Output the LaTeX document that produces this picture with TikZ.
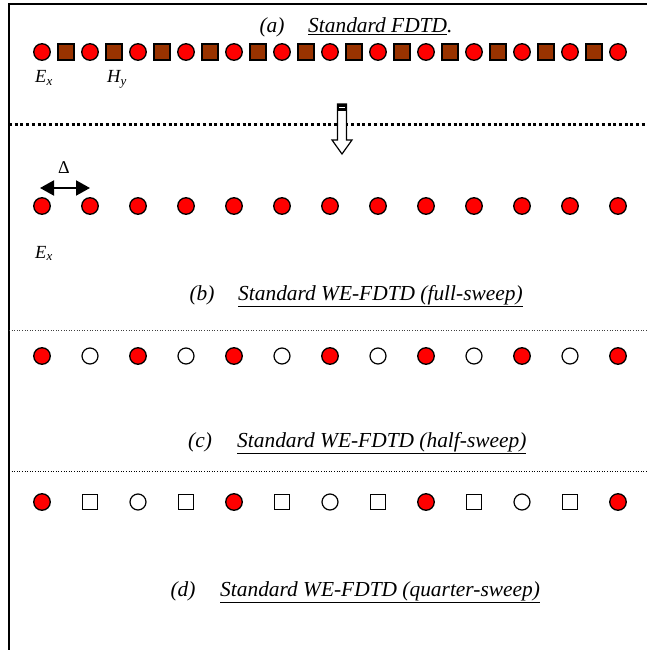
\documentclass[tikz,border=0pt]{standalone}
\usepackage{fontspec}
\setmainfont{Liberation Serif}
\usetikzlibrary{arrows.meta}
\definecolor{brn}{RGB}{153,51,0}
\begin{document}
\begin{tikzpicture}[x=1pt,y=-1pt,
  redc/.style={circle,draw=black,fill=red,line width=1.3pt,minimum size=16.5pt,inner sep=0pt},
  whitec/.style={circle,draw=black,fill=white,line width=1.2pt,minimum size=16pt,inner sep=0pt},
  brnsq/.style={rectangle,draw=black,fill=brn,line width=1.3pt,minimum size=16pt,inner sep=0pt},
  whitesq/.style={rectangle,draw=black,fill=white,line width=1.2pt,minimum size=14.5pt,inner sep=0pt},
  captxt/.style={inner sep=0pt,anchor=base,font=\fontsize{21.4}{24}\selectfont\itshape},
  captxtw/.style={captxt,anchor=base west},
  labtxt/.style={inner sep=0pt,anchor=base west,font=\fontsize{18.5}{20}\selectfont\itshape},
  thickdot/.style={line width=3pt,dash pattern=on 3pt off 2.7pt},
  thindot/.style={line width=1pt,dash pattern=on 1pt off 1.6pt}]
\useasboundingbox (0,0) rectangle (647,650);
% frame (top and left)
\draw[line width=2pt] (9,650) -- (9,4) -- (647,4);
% (a)
\node[captxt] (la) at (272,33) {(a)};
\node[captxtw] (ta) at (308,33) {\underline{Standard FDTD}.};
\foreach \i in {0,...,12} \node[redc] (a\i) at (42+48*\i,52) {};
\foreach \i in {0,...,11} \node[brnsq] (h\i) at (66+48*\i,52) {};
\node[labtxt] (ex1) at (35,83) {E\textsubscript{x}};
\node[labtxt] (hy1) at (107,83) {H\textsubscript{y}};
% thick dotted separator
\draw[thickdot] (9,125) -- (647,125);
% hollow down arrow
\draw[line width=1.2pt,fill=white] (337.5,104) -- (346.5,104) -- (346.5,140) -- (352,140) -- (342,154) -- (332,140) -- (337.5,140) -- cycle;
\fill[black] (337.5,104) rectangle (346.5,111);
\draw[white,line width=1.2pt] (339,107.5) -- (345,107.5);
% (b)
\node[inner sep=0pt,anchor=base,font=\fontsize{18}{20}\selectfont] (delta) at (64,173) {Δ};
\coordinate (dl) at (40,188);
\coordinate (dr) at (90,188);
\draw[line width=2pt,{Triangle[length=14pt,width=15pt]}-{Triangle[length=14pt,width=15pt]}] (dl) -- (dr);
\foreach \i in {0,...,12} \node[redc] (b\i) at (42+48*\i,206) {};
\node[labtxt] (ex2) at (35,258) {E\textsubscript{x}};
\node[captxt] (lb) at (202,300) {(b)};
\node[captxtw] (tb) at (238,300) {\underline{Standard WE-FDTD (full-sweep)}};
\draw[thindot,black!75] (9,330) -- (647,330);
% (c)
\foreach \i in {0,...,12} {
  \pgfmathtruncatemacro{\r}{mod(\i,2)}
  \ifnum\r=0 \node[redc] (c\i) at (42+48*\i,356) {};
  \else \node[whitec] (c\i) at (42+48*\i,356) {};
  \fi
}
\node[captxt] (lc) at (200,447) {(c)};
\node[captxtw] (tc) at (237,447) {\underline{Standard WE-FDTD (half-sweep)}};
\draw[thindot] (9,471) -- (647,471);
% (d)
\foreach \i in {0,...,12} {
  \pgfmathtruncatemacro{\r}{mod(\i,4)}
  \ifnum\r=0 \node[redc] (d\i) at (42+48*\i,502) {};
  \else\ifnum\r=2 \node[whitec] (d\i) at (42+48*\i,502) {};
  \else \node[whitesq] (d\i) at (42+48*\i,502) {};
  \fi\fi
}
\node[captxt] (ld) at (183,596) {(d)};
\node[captxtw] (td) at (220,596) {\underline{Standard WE-FDTD (quarter-sweep)}};
\end{tikzpicture}
\end{document}
